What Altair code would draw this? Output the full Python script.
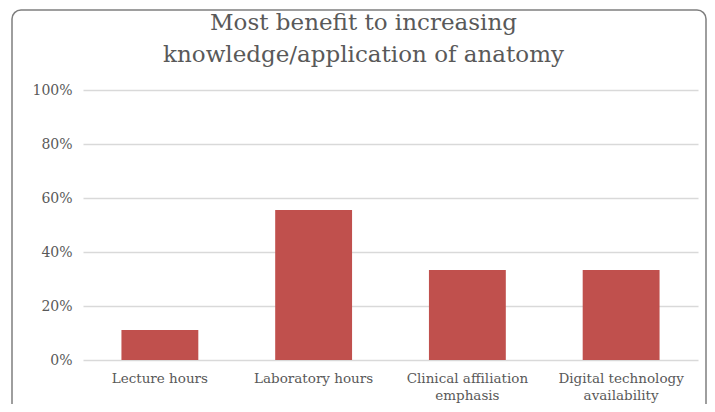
import altair as alt
import pandas as pd

categories = ["Lecture hours", "Laboratory hours", "Clinical affiliation emphasis", "Digital technology availability"]
label_lines = [["Lecture hours"], ["Laboratory hours"], ["Clinical affiliation", "emphasis"], ["Digital technology", "availability"]]
values = [0.111, 0.556, 0.333, 0.333]

df = pd.DataFrame({"category": categories, "value": values})

expr_parts = []
for c, lines in zip(categories, label_lines):
    arr = "[" + ",".join("'" + l + "'" for l in lines) + "]"
    expr_parts.append(f"datum.label == '{c}' ? {arr} : ")
label_expr = "".join(expr_parts) + "datum.label"

FONT = "DejaVu Serif"
GREY = "#595959"

bars = alt.Chart(df).mark_bar(color="#C0504D").encode(
    x=alt.X("category:N", sort=categories, title=None,
            scale=alt.Scale(paddingInner=0.5, paddingOuter=0.25),
            axis=alt.Axis(labelAngle=0, labelExpr=label_expr, ticks=False, domain=False,
                          labelFont=FONT, labelFontSize=13.5, labelColor=GREY,
                          labelPadding=11, labelLineHeight=17)),
    y=alt.Y("value:Q", title=None,
            scale=alt.Scale(domain=[0, 1]),
            axis=alt.Axis(format=".0%", values=[0, 0.2, 0.4, 0.6, 0.8, 1.0], ticks=False, domain=False,
                          labelFont=FONT, labelFontSize=14, labelColor=GREY, labelPadding=11,
                          gridColor="#d9d9d9", gridWidth=1.5)),
)

frame = alt.Chart(df).mark_rect(fill=None, stroke="#7f7f7f", strokeWidth=1.5, cornerRadius=9, clip=False).encode(
    x=alt.value(-71), x2=alt.value(623), y=alt.value(-80), y2=alt.value(340)
).transform_filter(alt.datum.category == categories[0])

chart = alt.layer(frame, bars).properties(
    width=615, height=270,
    title=alt.TitleParams(
        text=["Most benefit to increasing", "knowledge/application of anatomy"],
        font=FONT, fontSize=23, fontWeight="normal", color=GREY,
        anchor="middle", dx=-27, dy=64, offset=6, lineHeight=32,
    ),
    autosize=alt.AutoSizeParams(type="none"),
    padding={"left": 75, "top": 82, "right": 9, "bottom": 44},
).configure_view(stroke=None).configure_axis(labelBound=False)

chart.save("out.html", embed_options={"renderer": "svg", "actions": False})
